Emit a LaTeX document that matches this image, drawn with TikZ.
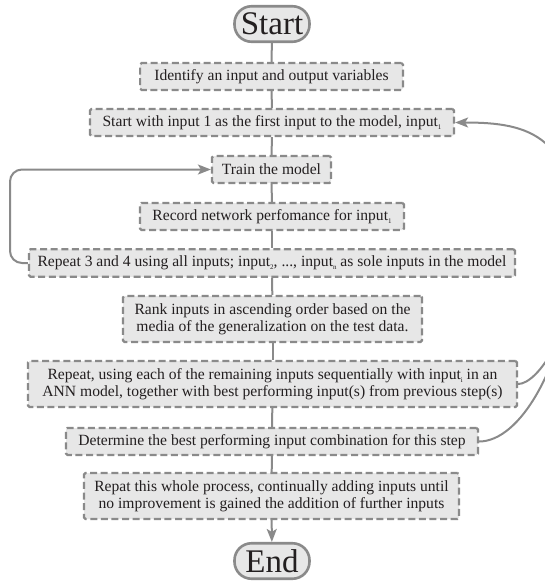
\documentclass[tikz,border=0pt]{standalone}
\usepackage{fontspec}
\setmainfont{Liberation Serif}
\usetikzlibrary{arrows.meta}
\definecolor{edgegray}{RGB}{138,138,138}
\definecolor{boxfill}{RGB}{231,231,231}
\definecolor{ink}{RGB}{35,31,32}
% small lowered index after "input"
\newcommand{\idx}[1]{\raisebox{-3pt}{\fontsize{7}{7}\selectfont #1}}

\begin{document}
\begin{tikzpicture}[x=1pt,y=-1pt,
  stepbox/.style={draw=edgegray, fill=boxfill, line width=2.2pt,
    dash pattern=on 7pt off 3.6pt, rounded corners=1.5pt, inner sep=0pt,
    align=center, text=ink, font=\fontsize{15.6}{16.8}\selectfont},
  terminal/.style={draw=edgegray, fill=boxfill, line width=2.6pt,
    rounded corners=17pt, minimum width=75pt, minimum height=35.5pt,
    inner sep=0pt, text=ink, font=\fontsize{33}{33}\selectfont},
  link/.style={draw=edgegray, line width=2pt},
  flow/.style={link, -{Stealth[length=13pt,width=10pt,inset=3pt]}}
]
\useasboundingbox (0,0) rectangle (545,582);
\clip (0,0) rectangle (545,582);

% terminals
\node[terminal] (start) at (272,24) {Start};
\node[terminal] (end)   at (272,561) {End};

% process steps
\node[stepbox, minimum width=262.8pt, minimum height=27pt] (b1) at (271.5,76.5)
  {Identify an input and output variables};
\node[stepbox, minimum width=364pt, minimum height=27pt] (b2) at (272,122.5)
  {Start with input 1 as the first input to the model, input\idx{1}};
\node[stepbox, minimum width=119pt, minimum height=27pt] (b3) at (271.5,169.5)
  {Train the model};
\node[stepbox, minimum width=264pt, minimum height=27pt] (b4) at (272,216.5)
  {Record network perfomance for input\idx{1}};
\node[stepbox, minimum width=486pt, minimum height=27.5pt] (b5) at (272,263)
  {Repeat 3 and 4 using all inputs; input\idx{2}, ..., input\idx{n} as sole inputs in the model};
\node[stepbox, minimum width=299pt, minimum height=46pt] (b6) at (272.5,319)
  {Rank inputs in ascending order based on the\\media of the generalization on the test data.};
\node[stepbox, minimum width=489pt, minimum height=46pt] (b7) at (272.5,384)
  {Repeat, using each of the remaining inputs sequentially with input\idx{i} in an\\ANN model, together with best performing input(s) from previous step(s)};
\node[stepbox, minimum width=412pt, minimum height=27pt] (b8) at (272,441.5)
  {Determine the best performing input combination for this step};
\node[stepbox, minimum width=375pt, minimum height=46pt] (b9) at (271.5,496)
  {Repat this whole process, continually adding inputs until\\no improvement is gained the addition of further inputs};

% main column
\draw[link] (start) -- (b1);
\draw[link] (b1) -- (b2);
\draw[link] (b2) -- (b3);
\draw[link] (b3) -- (b4);
\draw[link] (b4) -- (b5);
\draw[link] (b5) -- (b6);
\draw[link] (b6) -- (b7);
\draw[link] (b7) -- (b8);
\draw[link] (b8) -- (b9);
\draw[flow] (b9) -- (end);

% inner loop back to training
\coordinate (lowleft) at (10,263);
\coordinate (upleft) at (10,169.5);
\draw[flow, rounded corners=12pt] (b5.west) -- (lowleft) -- (upleft) -- (b3.west);

% outer loop back to the first input step
\coordinate (back) at (578,250);
\draw[link] (b7.east) .. controls (538,384) and (575,330) .. (back);
\draw[link] (b8.east) .. controls (519,441.5) and (565,370) .. (back);
\draw[flow] (back) .. controls (577,135) and (530,122.5) .. (b2.east);
\end{tikzpicture}
\end{document}
